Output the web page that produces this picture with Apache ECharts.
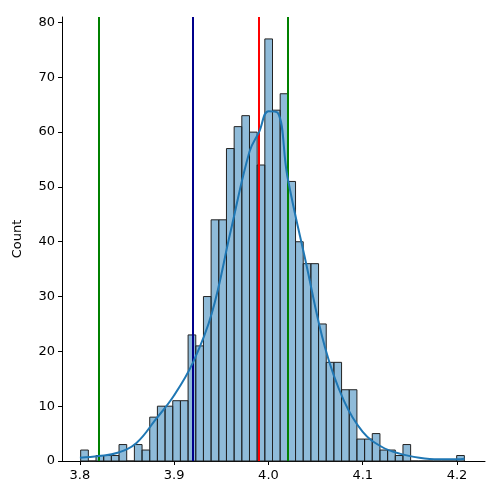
<!DOCTYPE html>
<html><head><meta charset="utf-8">
<script src="https://cdn.jsdelivr.net/npm/echarts@6/dist/echarts.min.js"></script>
<style>html,body{margin:0;padding:0;background:#fff}#c{width:500px;height:500px}</style>
</head><body><div id="c"></div>
<script>
const binStart = 3.8008;
const binWidth = 0.00814;
const counts = [2,0,1,1,1,3,0,3,2,8,10,10,11,11,23,21,30,44,44,57,61,63,60,54,77,64,67,51,40,36,36,25,18,18,13,13,4,4,5,2,2,1,3,0,0,0,0,0,0,1];
const kdeX = [3.80,3.82,3.84,3.86,3.88,3.90,3.92,3.94,3.96,3.98,3.99,4.00,4.01,4.02,4.04,4.06,4.08,4.10,4.12,4.14,4.16,4.18,4.20,4.208];
const kdeY = [0.6,0.9,1.5,3.3,7.5,12,18,27,42,56.5,60,63.8,63.5,52,36,20.7,11,5.3,2.6,1.3,0.6,0.3,0.3,0.4];
const vlines = [{x:3.818,c:'#008000'},{x:3.9188,c:'#00008b'},{x:3.992,c:'#ff0000'},{x:4.0186,c:'#008000'}];
const xTicks = [3.8,3.9,4.0,4.1,4.2];

const barData = counts.map((v,i)=>[binStart+i*binWidth, binStart+(i+1)*binWidth, v]);
const chart = echarts.init(document.getElementById('c'));
const font = {fontFamily:'DejaVu Sans', fontSize:13, color:'#000'};
chart.setOption({
  animation:false,
  grid:{left:62,right:15,top:17,bottom:39},
  xAxis:{type:'value',min:3.781,max:4.2297,
    axisLine:{onZero:false,lineStyle:{color:'#000',width:1}},
    axisTick:{customValues:xTicks,length:4,lineStyle:{color:'#000'}},
    axisLabel:{customValues:xTicks,...font,margin:8,formatter:v=>v.toFixed(1)},
    splitLine:{show:false}},
  yAxis:{type:'value',min:0,max:81,interval:10,name:'Count',nameLocation:'middle',nameGap:38,
    nameTextStyle:{...font},
    axisLine:{show:true,lineStyle:{color:'#000'}},
    axisTick:{show:true,length:4,lineStyle:{color:'#000'}},
    axisLabel:{...font,margin:7,showMaxLabel:false},
    splitLine:{show:false}},
  series:[
    {type:'custom',data:barData,encode:{x:[0,1],y:2},
      renderItem:(params,api)=>{
        const p0=api.coord([api.value(0),0]);
        const p1=api.coord([api.value(1),api.value(2)]);
        return {type:'rect',shape:{x:p0[0],y:p1[1],width:p1[0]-p0[0],height:p0[1]-p1[1]},
          style:{fill:'rgba(31,119,180,0.5)',stroke:'#222',lineWidth:1}};
      },
      markLine:{silent:true,symbol:'none',label:{show:false},
        data:vlines.map(l=>({xAxis:l.x,lineStyle:{color:l.c,width:2,type:'solid'}}))}
    },
    {type:'line',data:kdeX.map((x,i)=>[x,kdeY[i]]),smooth:0.4,showSymbol:false,
      lineStyle:{color:'#1f77b4',width:2},z:5}
  ]
});
</script></body></html>
